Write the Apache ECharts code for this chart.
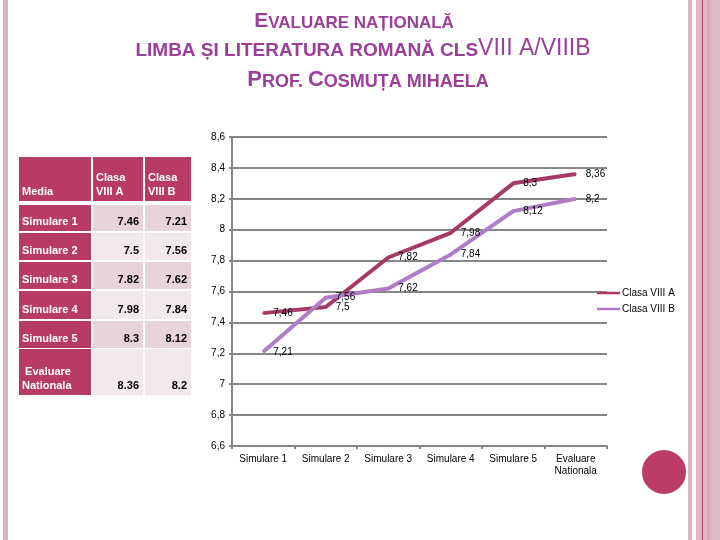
<!DOCTYPE html>
<html><head><meta charset="utf-8">
<script src="https://cdn.jsdelivr.net/npm/echarts@6/dist/echarts.min.js"></script>
<style>html,body{margin:0;padding:0;background:#fff}#c{width:720px;height:540px}</style>
</head><body><div id="c"></div>
<script>
// ---- data ----
const categories = ['Simulare 1', 'Simulare 2', 'Simulare 3', 'Simulare 4', 'Simulare 5', 'Evaluare\nNationala'];
const tableRowLabels = ['Simulare 1', 'Simulare 2', 'Simulare 3', 'Simulare 4', 'Simulare 5', ' Evaluare\nNationala'];
const tableHeaders = ['Media', 'Clasa\nVIII A', 'Clasa\nVIII B'];
const seriesNames = ['Clasa VIII A', 'Clasa VIII B'];
const classA = [7.46, 7.5, 7.82, 7.98, 8.3, 8.36];
const classB = [7.21, 7.56, 7.62, 7.84, 8.12, 8.2];
const yMin = 6.6, yMax = 8.6, yStep = 0.2;

// ---- styles ----
const FONT = '"Liberation Sans", Arial, sans-serif';
const colA = '#a63a66';
const colB = '#b07cc6';
const headCol = '#b73b66';
const cellDark = '#e8d3da';
const cellLight = '#f3e8ec';
const titleCol = '#9b3f98';

const chart = echarts.init(document.getElementById('c'));

// table layout
const cols = [[19, 91], [93, 143], [145, 191]];
const rows = [[157, 201], [205, 231], [233, 260], [262, 289], [291, 319], [321, 348], [349, 395]];
const g = [];
// borders
g.push({type: 'rect', shape: {x: 3, y: 0, width: 5, height: 540}, style: {fill: '#dbb4c1'}, silent: true});
g.push({type: 'rect', shape: {x: 688, y: 0, width: 4, height: 540}, style: {fill: '#dcb5c2'}, silent: true});
g.push({type: 'rect', shape: {x: 696, y: 0, width: 24, height: 540}, style: {fill: '#dfb8c4'}, silent: true});
g.push({type: 'rect', shape: {x: 707, y: 0, width: 3, height: 540}, style: {fill: '#d5aab8'}, silent: true});
g.push({type: 'rect', shape: {x: 702, y: 0, width: 1, height: 540}, style: {fill: '#b84069'}, silent: true});
g.push({type: 'circle', shape: {cx: 664, cy: 472, r: 22}, style: {fill: '#bc3c68'}, silent: true});

// title
const rich = {
  L: {fontSize: 22, fontWeight: 'bold', fontFamily: FONT, fill: titleCol, verticalAlign: 'bottom', lineHeight: 24},
  L1: {fontSize: 21, fontWeight: 'bold', fontFamily: FONT, fill: titleCol, verticalAlign: 'bottom', lineHeight: 24},
  s: {fontSize: 18, fontWeight: 'bold', fontFamily: FONT, fill: titleCol, verticalAlign: 'bottom', lineHeight: 22},
  s1: {fontSize: 17, fontWeight: 'bold', fontFamily: FONT, fill: titleCol, verticalAlign: 'bottom', lineHeight: 22},
  s2: {fontSize: 19, fontWeight: 'bold', fontFamily: FONT, fill: titleCol, verticalAlign: 'bottom', lineHeight: 22},
  R: {fontSize: 23, fontFamily: FONT, fill: titleCol, verticalAlign: 'bottom', lineHeight: 24}
};
function titleText(str, x, y) {
  g.push({type: 'text', x: x, y: y, silent: true,
    style: {text: str, rich: rich, align: 'center', verticalAlign: 'middle', fill: titleCol}});
}
titleText('{L1|E}{s1|VALUARE NAȚIONALĂ}', 354, 20);
titleText('{s2|LIMBA ȘI LITERATURA ROMANĂ CLS}{R|VIII A/VIIIB}', 363, 48);
titleText('{L|P}{s|ROF. }{L|C}{s|OSMUȚA MIHAELA}', 368, 79);

// table
for (let r = 0; r < rows.length; r++) {
  for (let c = 0; c < cols.length; c++) {
    let fill;
    if (r === 0 || c === 0) fill = headCol;
    else fill = (r % 2 === 1) ? cellDark : cellLight;
    g.push({type: 'rect', silent: true,
      shape: {x: cols[c][0], y: rows[r][0], width: cols[c][1] - cols[c][0], height: rows[r][1] - rows[r][0]},
      style: {fill: fill}});
    let txt, align, x, color;
    if (r === 0) { txt = tableHeaders[c]; align = 'left'; x = cols[c][0] + 3; color = '#fff'; }
    else if (c === 0) { txt = tableRowLabels[r - 1]; align = 'left'; x = cols[c][0] + 3; color = '#fff'; }
    else { txt = String((c === 1 ? classA : classB)[r - 1]); align = 'right'; x = cols[c][1] - 4; color = '#000'; }
    g.push({type: 'text', silent: true, x: x, y: rows[r][1] - 2,
      style: {text: txt, align: align, verticalAlign: 'bottom', fill: color,
        font: 'bold 11px ' + FONT, lineHeight: 14}});
  }
}

const fmt = v => String(v).replace('.', ',');

chart.setOption({
  backgroundColor: '#fff',
  animation: false,
  textStyle: {fontFamily: FONT},
  grid: {left: 232, right: 113, top: 137, bottom: 94, containLabel: false},
  legend: {
    orient: 'vertical', left: 597, top: 288, itemWidth: 23, itemHeight: 2.5, itemGap: 6, padding: 0,
    icon: 'rect',
    textStyle: {fontSize: 10, color: '#000', fontFamily: FONT, padding: [0, 0, 0, -3]},
    data: seriesNames.map((n, i) => ({name: n, itemStyle: {color: i ? colB : colA}}))
  },
  xAxis: {
    type: 'category', data: categories, boundaryGap: true,
    axisLine: {lineStyle: {color: '#868686', width: 2}},
    axisTick: {show: true, length: 3, lineStyle: {color: '#868686', width: 2}},
    axisLabel: {color: '#000', fontSize: 10, margin: 7, lineHeight: 12, interval: 0}
  },
  yAxis: {
    type: 'value', min: yMin, max: yMax, interval: yStep,
    axisLine: {show: true, lineStyle: {color: '#868686', width: 2}},
    axisTick: {show: true, length: 3, lineStyle: {color: '#868686', width: 2}},
    splitLine: {lineStyle: {color: '#868686', width: 2}},
    axisLabel: {color: '#000', fontSize: 10, margin: 7,
      formatter: v => String(Math.round(v * 10) / 10).replace('.', ',')}
  },
  series: [
    {name: seriesNames[0], type: 'line', data: classA, symbol: 'circle', symbolSize: 2, showSymbol: true,
      color: colA, itemStyle: {color: colA},
      lineStyle: {width: 4, color: colA},
      labelLayout: {hideOverlap: false},
      label: {show: true, position: 'right', distance: 9, fontSize: 10, color: '#000', formatter: p => fmt(p.value)}},
    {name: seriesNames[1], type: 'line', data: classB, symbol: 'circle', symbolSize: 2, showSymbol: true,
      color: colB, itemStyle: {color: colB},
      lineStyle: {width: 4, color: colB},
      labelLayout: {hideOverlap: false},
      label: {show: true, position: 'right', distance: 9, fontSize: 10, color: '#000', formatter: p => fmt(p.value)}}
  ],
  graphic: {elements: g}
});
</script></body></html>
